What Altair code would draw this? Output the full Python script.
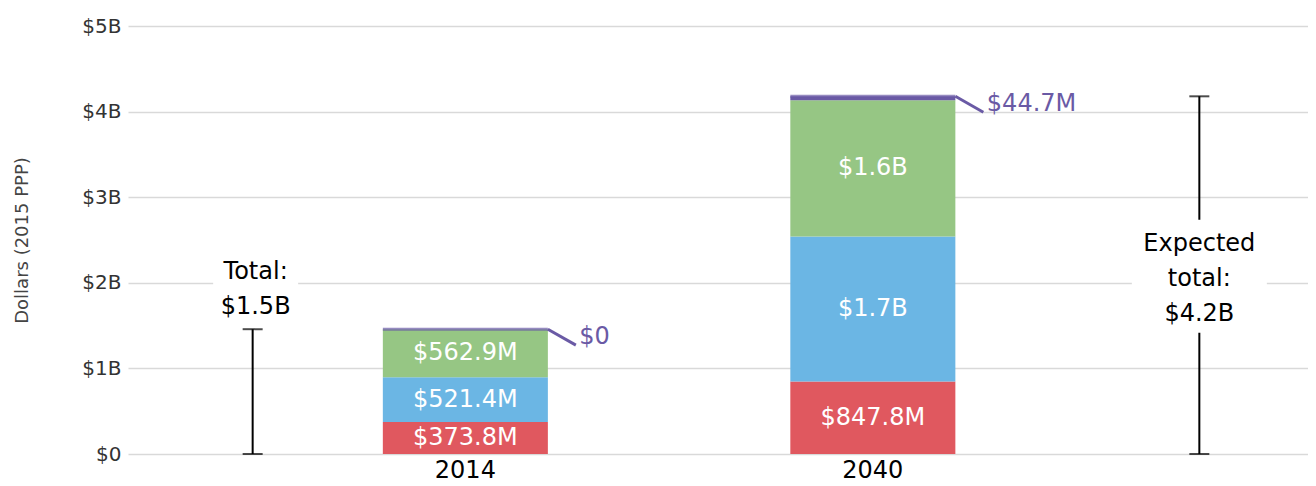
import altair as alt
import pandas as pd

FONT = "DejaVu Sans"

years = ["2014", "2040"]
series = ["Government", "Out-of-pocket", "Prepaid private", "Development assistance"]
colors = ["#e0585f", "#6bb6e4", "#96c684", "#6a5aa5"]
red_vals = [373.8, 847.8]        # $M
blue_vals = [521.4, 1694.0]
green_vals = [562.9, 1592.0]
purple_vals = [0.0, 44.7]
total_labels = ["Total:\n$1.5B", "Expected\ntotal:\n$4.2B"]
y_ticks = [0, 1000, 2000, 3000, 4000, 5000]
PURPLE = colors[3]


def fmt(v):
    if v == 0:
        return "$0"
    if v >= 1000:
        return f"${v / 1000:.1f}B"
    return f"${v:.1f}M"


rows = []
for i, y in enumerate(years):
    for j, (s, vals) in enumerate(zip(series, [red_vals, blue_vals, green_vals, purple_vals])):
        rows.append({"year": y, "series": s, "order": j + 1, "value": vals[i], "label": fmt(vals[i])})
df = pd.DataFrame(rows)

tot = pd.DataFrame({
    "year": years,
    "total": [r + b + g + p for r, b, g, p in zip(red_vals, blue_vals, green_vals, purple_vals)],
    "purple_label": [fmt(v) for v in purple_vals],
    "total_label": total_labels,
    "zero": [0.0, 0.0],
})

x_enc = alt.X(
    "year:N",
    scale=alt.Scale(domain=years, paddingInner=0.595, paddingOuter=0.7454, align=0.4195),
    axis=alt.Axis(title=None, labelAngle=0, labelFontSize=24, labelColor="black", labelFont=FONT,
                  ticks=False, domain=False, labelPadding=4, grid=False),
)
y_scale = alt.Scale(domain=[0, 5000], nice=False, zero=True)

stacked = alt.Chart(df).transform_stack(
    stack="value", groupby=["year"], sort=[alt.SortField("order", "ascending")], as_=["y0", "y1"]
).transform_calculate(mid="(datum.y0 + datum.y1) / 2")

bars = stacked.mark_bar().encode(
    x=x_enc,
    y=alt.Y("y0:Q", scale=y_scale, axis=alt.Axis(
        values=y_ticks,
        labelExpr="datum.value == 0 ? '$0' : '$' + (datum.value / 1000) + 'B'",
        title="Dollars (2015 PPP)", titleFont=FONT, titleFontSize=18, titleFontWeight="normal",
        titleColor="#444", titlePadding=50,
        labelFont=FONT, labelFontSize=20, labelColor="#333", labelPadding=7,
        ticks=False, domain=False, grid=True, gridColor="#d9d9d9", gridWidth=1.5,
    )),
    y2="y1:Q",
    color=alt.Color("series:N", scale=alt.Scale(domain=series, range=colors), legend=None),
)

bar_labels = stacked.transform_filter("datum.order < 4").mark_text(
    color="white", font=FONT, fontSize=24, baseline="middle"
).encode(x=alt.X("year:N"), y=alt.Y("mid:Q"), text="label:N")

totb = alt.Chart(tot)

purple_top = totb.mark_tick(orient="horizontal", size=165, thickness=3, color=PURPLE).encode(
    x="year:N", y="total:Q")

callout = totb.mark_point(shape="M0,0L1,0.57", size=3136, filled=False, color=PURPLE,
                          strokeWidth=3, opacity=1, xOffset=82.5).encode(x="year:N", y="total:Q")

callout_text = totb.mark_text(align="left", baseline="middle", dx=114, dy=8, font=FONT,
                              fontSize=24, color=PURPLE).encode(x="year:N", y="total:Q",
                                                               text="purple_label:N")


def bracket(year, off, box_path, box_size, box_dy, text_y, text_dy, text_dx):
    b = totb.transform_filter(f"datum.year == '{year}'").transform_calculate(mid="datum.total / 2")
    vline = b.mark_rule(color="black", strokeWidth=2, xOffset=off).encode(
        x="year:N", y="zero:Q", y2="total:Q")
    cap0 = b.mark_tick(orient="horizontal", size=20, thickness=2, color="black", xOffset=off).encode(
        x="year:N", y="zero:Q")
    cap1 = b.mark_tick(orient="horizontal", size=20, thickness=2, color="black", xOffset=off).encode(
        x="year:N", y="total:Q")
    box = b.mark_point(shape=box_path, size=box_size, filled=True, color="white", opacity=1,
                       strokeWidth=0, xOffset=off + text_dx, yOffset=box_dy).encode(
        x="year:N", y=f"{text_y}:Q")
    txt = b.mark_text(align="center", baseline="middle", lineBreak="\n", lineHeight=35, font=FONT,
                      fontSize=24, color="black", dx=off + text_dx, dy=text_dy).encode(
        x="year:N", y=f"{text_y}:Q", text="total_label:N")
    return [vline, cap0, cap1, box, txt]


left = bracket("2014", -212.7, "M-1,-0.7H1V0.7H-1Z", 7225, -40, "total", -57, 3)
right = bracket("2040", 326.5, "M-1,-0.837H1V0.837H-1Z", 18225, 1, "mid", -31, 0)

chart = alt.layer(bars, bar_labels, purple_top, callout, callout_text, *left, *right).properties(
    width=1180, height=428,
    autosize=alt.AutoSizeParams(type="none"),
    padding={"left": 120, "top": 18, "right": 0, "bottom": 32},
).configure_view(stroke=None)

chart.save("out.html", embed_options={"renderer": "svg", "actions": False})
